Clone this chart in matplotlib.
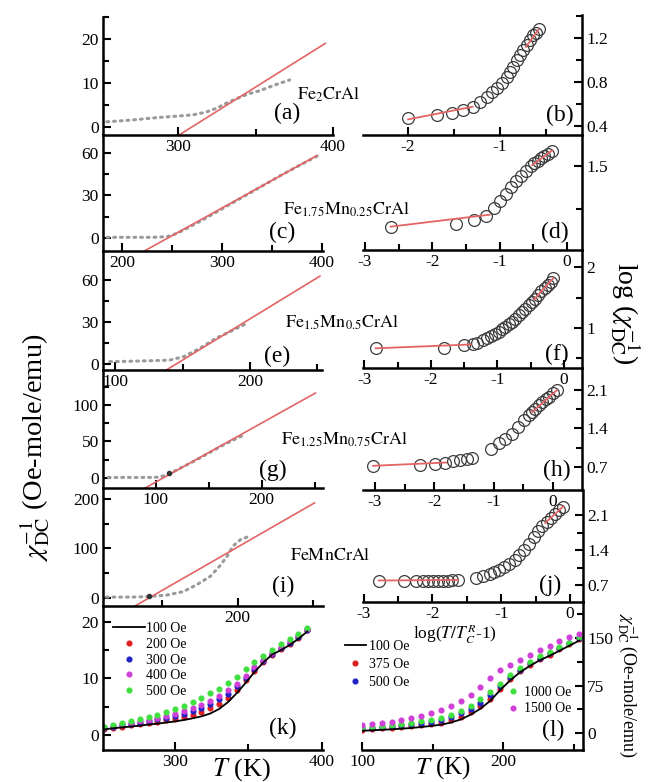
import matplotlib.pyplot as plt
from matplotlib.ticker import FixedLocator

plt.rcParams['font.family'] = ['Liberation Serif', 'DejaVu Serif']
plt.rcParams['mathtext.fontset'] = 'stix'
plt.rcParams['axes.unicode_minus'] = False

# ---------------- data ----------------
# left column: chi^-1 vs T (gray dotted data, red Curie-Weiss fit)
Ta = [254, 270, 288, 300, 310, 318, 325, 331, 338, 345, 353, 362, 372]
chia = [1.2, 1.6, 2.2, 2.5, 2.8, 3.4, 4.3, 5.4, 6.5, 7.5, 8.3, 9.5, 10.7]
fitTa = [300.6, 395]
fitchia = [-1.8, 19.0]

Tc = [185, 195, 205, 215, 225, 235, 245, 252, 260, 280, 300, 320, 340, 360, 380, 395]
chic = [0.5, 0.5, 0.5, 0.5, 0.5, 0.6, 1.0, 2.5, 5.0, 12.5, 20.5, 28.5, 36.5, 44.5, 52.0, 57.5]
fitTc = [222.3, 395]
fitchic = [-9.1, 58.0]

Te = [96, 104, 112, 120, 128, 136, 141, 151, 163, 175, 188, 198]
chie = [1.7, 1.8, 2.0, 2.2, 2.4, 2.6, 2.9, 5.3, 11.3, 18.5, 24.5, 29.3]
fitTe = [138, 252]
fitchie = [-4.3, 63.0]

Tg = [55, 65, 75, 85, 95, 103, 112, 120, 135, 150, 165, 185]
chig = [0.5, 0.5, 0.5, 0.5, 0.5, 0.8, 5.0, 11.0, 22.0, 34.0, 46.0, 60.0]
fitTg = [89.6, 251]
fitchig = [-14.2, 116.5]
tcTg, tcchig = [112], [6]

Ti = [113, 122, 131, 141, 153, 164, 173, 182, 188, 193, 197, 202, 208]
chii = [2, 2, 2, 3, 6, 13, 27, 44, 64, 84, 105, 118, 125]
fitTi = [132, 251]
fitchii = [-16, 192]
tcTi, tcchii = [141.5], [5]

# right column: log(chi^-1) vs log(T/Tc - 1)
xb = [-2.0, -1.69, -1.52, -1.40, -1.30, -1.22, -1.145, -1.09, -1.036, -0.98, -0.93,
      -0.89, -0.855, -0.82, -0.78, -0.75, -0.71, -0.67, -0.64, -0.61, -0.58]
yb = [0.47, 0.50, 0.52, 0.55, 0.57, 0.62, 0.667, 0.71, 0.75, 0.79, 0.85,
      0.89, 0.94, 1.0, 1.045, 1.09, 1.136, 1.18, 1.227, 1.25, 1.28]
fitxb_lo, fityb_lo = [-2.0, -1.3], [0.46, 0.575]
fitxb_hi, fityb_hi = [-0.72, -0.58], [1.12, 1.28]

xd = [-2.62, -1.65, -1.38, -1.21, -1.09, -0.99, -0.91, -0.84, -0.76, -0.69, -0.61,
      -0.54, -0.49, -0.44, -0.39, -0.34, -0.28, -0.22]
yd = [0.44, 0.49, 0.55, 0.63, 0.76, 0.895, 1.01, 1.13, 1.24, 1.33, 1.42,
      1.51, 1.55, 1.59, 1.64, 1.68, 1.72, 1.77]
fitxd_lo, fityd_lo = [-2.62, -1.15], [0.44, 0.65]
fitxd_hi, fityd_hi = [-0.52, -0.22], [1.52, 1.78]

xf = [-2.83, -1.8, -1.51, -1.37, -1.3, -1.22, -1.16, -1.1, -1.04, -0.98, -0.93, -0.88,
      -0.83, -0.78, -0.73, -0.68, -0.63, -0.58, -0.53, -0.48, -0.43, -0.39, -0.34,
      -0.29, -0.24, -0.2, -0.16]
yf = [0.667, 0.68, 0.72, 0.73, 0.76, 0.80, 0.83, 0.87, 0.90, 0.94, 0.98, 1.02,
      1.06, 1.10, 1.15, 1.21, 1.26, 1.32, 1.37, 1.43, 1.48, 1.54, 1.60,
      1.65, 1.71, 1.76, 1.82]
fitxf_lo, fityf_lo = [-2.83, -1.4], [0.667, 0.73]
fitxf_hi, fityf_hi = [-0.45, -0.16], [1.47, 1.82]

xh = [-3.03, -2.24, -1.99, -1.81, -1.68, -1.56, -1.45, -1.37, -1.05, -0.91, -0.8,
      -0.69, -0.58, -0.49, -0.41, -0.35, -0.3, -0.24, -0.18, -0.12, -0.07, 0.0, 0.07]
yh = [0.72, 0.74, 0.75, 0.78, 0.80, 0.82, 0.85, 0.86, 1.03, 1.13, 1.21,
      1.30, 1.42, 1.55, 1.64, 1.70, 1.76, 1.83, 1.89, 1.94, 1.98, 2.04, 2.10]
fitxh_lo, fityh_lo = [-3.03, -1.8], [0.72, 0.78]
fitxh_hi, fityh_hi = [-0.35, 0.07], [1.70, 2.10]

xj = [-2.78, -2.41, -2.24, -2.14, -2.07, -1.99, -1.92, -1.85, -1.78, -1.71, -1.63,
      -1.37, -1.27, -1.17, -1.1, -1.03, -0.96, -0.88, -0.8, -0.74, -0.67, -0.59,
      -0.52, -0.46, -0.4, -0.34, -0.28, -0.22, -0.16, -0.1]
yj = [0.79, 0.79, 0.79, 0.79, 0.79, 0.79, 0.79, 0.79, 0.79, 0.80, 0.80,
      0.85, 0.88, 0.92, 0.97, 1.01, 1.07, 1.13, 1.21, 1.30, 1.40, 1.53,
      1.67, 1.78, 1.88, 1.97, 2.05, 2.13, 2.20, 2.27]
fitxj_lo, fityj_lo = [-2.78, -1.63], [0.79, 0.80]
fitxj_hi, fityj_hi = [-0.36, -0.1], [1.94, 2.27]

# (k) Fe2CrAl, field dependence
Tk = [252, 258, 264, 270, 276, 282, 288, 294, 300, 306, 312, 318, 324, 330, 336,
      342, 348, 354, 360, 366, 372, 378, 384, 390]
k100 = [1.0, 1.2, 1.35, 1.5, 1.65, 1.85, 2.0, 2.2, 2.4, 2.65, 2.95, 3.3, 3.8, 4.6,
        5.8, 7.4, 9.2, 11.1, 12.8, 14.2, 15.0, 15.9, 17.0, 18.3]
k200 = [1.1, 1.3, 1.5, 1.7, 1.9, 2.1, 2.35, 2.6, 2.9, 3.2, 3.6, 4.1, 4.7, 5.5,
        6.6, 8.0, 9.7, 11.4, 12.9, 14.2, 15.2, 16.1, 17.2, 18.5]
k300 = [1.3, 1.5, 1.7, 1.95, 2.2, 2.45, 2.75, 3.05, 3.4, 3.8, 4.25, 4.8, 5.5, 6.3,
        7.3, 8.6, 10.1, 11.7, 13.1, 14.3, 15.4, 16.3, 17.4, 18.6]
k400 = [1.4, 1.65, 1.9, 2.15, 2.4, 2.7, 3.0, 3.35, 3.75, 4.2, 4.7, 5.3, 6.0, 6.9,
        7.9, 9.1, 10.5, 12.0, 13.3, 14.5, 15.6, 16.6, 17.6, 18.8]
k500 = [1.5, 1.8, 2.2, 2.5, 2.8, 3.2, 3.6, 4.1, 4.6, 5.2, 5.9, 6.6, 7.4, 8.2,
        9.2, 10.3, 11.6, 12.9, 14.0, 15.0, 16.0, 16.9, 17.9, 18.9]

# (l) FeMnCrAl, field dependence
Tl = [100, 107, 114, 121, 128, 135, 142, 149, 156, 163, 170, 177, 184, 191, 198,
      205, 212, 219, 226, 233, 240, 247, 254]
l100 = [3.6, 4.3, 5.1, 5.9, 6.9, 8.0, 9.5, 11.2, 13.2, 16.5, 21.5, 29, 38.5, 51, 68,
        83, 96, 106, 115, 122, 130, 138, 146]
l375 = [5.5, 6.3, 7.2, 8.1, 9.2, 10.5, 12.2, 14.2, 16.5, 20, 25, 32.5, 42, 54, 70,
        85, 98, 108, 117, 124, 132, 140, 148]
l500 = [7.5, 8.5, 9.5, 10.7, 12.0, 13.5, 15.5, 18, 21, 25, 31, 38.5, 48, 60, 74,
        88, 100, 110, 119, 126, 134, 142, 150]
l1000 = [9, 10.2, 11.4, 12.8, 14.3, 16, 18.3, 21, 24.5, 29, 35, 43, 53, 65, 78,
         91, 102, 112, 121, 128, 136, 143, 151]
l1500 = [12, 14, 16, 18, 20.5, 23.5, 27, 31, 36, 42, 50, 60, 73, 87, 99,
         108, 116, 123, 131, 138, 145, 151, 157]

W, H = 648, 782
fig = plt.figure(figsize=(6.48, 7.82), dpi=100)

RED = '#e36464'
GRAY = '#9a9a9a'
CIRC = '#3c3c3c'


def rect(x0, y0, x1, y1):
    return [x0 / W, 1 - y1 / H, (x1 - x0) / W, (y1 - y0) / H]


def fxy(x, y):
    return x / W, 1 - y / H


def style(ax, xlim, ylim, xmaj, xmin, ymaj, ymin, right=False):
    ax.set_xlim(xlim)
    ax.set_ylim(ylim)
    ax.patch.set_visible(False)
    ax.spines['top'].set_visible(False)
    if right:
        ax.spines['left'].set_visible(False)
        ax.yaxis.tick_right()
    else:
        ax.spines['right'].set_visible(False)
    for s in ax.spines.values():
        s.set_linewidth(1.8)
    ax.xaxis.set_major_locator(FixedLocator(xmaj))
    ax.xaxis.set_minor_locator(FixedLocator(xmin))
    ax.yaxis.set_major_locator(FixedLocator(ymaj))
    ax.yaxis.set_minor_locator(FixedLocator(ymin))
    ax.tick_params(which='both', direction='in', width=1.5, labelsize=12.5, pad=3)
    ax.tick_params(which='major', length=6)
    ax.tick_params(which='minor', length=4)


def left_panel(pos, T, chi, fT, fchi, xlim, ylim, xmaj, xmin, ymaj, ymin):
    ax = fig.add_axes(rect(*pos))
    ax.plot(T, chi, ls=(0, (0.6, 1.6)), lw=2.2, color=GRAY, dash_capstyle='round')
    ax.plot(fT, fchi, color=RED, lw=1.2)
    style(ax, xlim, ylim, xmaj, xmin, ymaj, ymin)
    return ax


def right_panel(pos, x, y, lo, hi, xlim, ylim, xmaj, xmin, ymaj, ymin):
    ax = fig.add_axes(rect(*pos))
    ax.plot(x, y, 'o', mfc='none', mec=CIRC, ms=8.5, mew=0.9)
    ax.plot(lo[0], lo[1], color=RED, lw=1.3, zorder=3)
    ax.plot(hi[0], hi[1], color=RED, lw=1.3, zorder=3)
    style(ax, xlim, ylim, xmaj, xmin, ymaj, ymin, right=True)
    return ax


# left column
left_panel((103, 17, 333, 135), Ta, chia, fitTa, fitchia, (251.5, 400), (-1.8, 25),
           [300, 400], [350], [0, 10, 20], [5, 15, 25])
left_panel((103, 135, 323, 251), Tc, chic, fitTc, fitchic, (181, 401), (-9.1, 72.4),
           [200, 300, 400], [250, 350], [0, 30, 60], [15, 45])
left_panel((103, 251, 322, 370), Te, chie, fitTe, fitchie, (91, 253.5), (-4.3, 81),
           [100, 200], [150, 250], [0, 30, 60], [15, 45])
axg = left_panel((103, 370, 323, 488), Tg, chig, fitTg, fitchig, (50, 258), (-14, 148),
                 [100, 200], [150, 250], [0, 50, 100], [25, 75, 125])
axg.plot(tcTg, tcchig, 'o', color='#333333', ms=3)
axi = left_panel((103, 488, 323, 606), Ti, chii, fitTi, fitchii, (110.8, 256.6), (-16, 222),
                 [200], [150, 250], [0, 100, 200], [50, 150])
axi.plot(tcTi, tcchii, 'o', color='#333333', ms=3)

# right column
right_panel((363, 15, 582, 135), xb, yb, (fitxb_lo, fityb_lo), (fitxb_hi, fityb_hi),
            (-2.49, -0.11), (0.318, 1.41), [-2, -1], [-1.5, -0.5], [0.4, 0.8, 1.2], [0.6, 1.0, 1.4])
right_panel((363, 135, 582, 250), xd, yd, (fitxd_lo, fityd_lo), (fitxd_hi, fityd_hi),
            (-3.03, 0.22), (0.03, 2.05), [-3, -2, -1, 0], [-2.5, -1.5, -0.5], [0.0, 1.5], [0.75])
right_panel((363, 250, 582, 368), xf, yf, (fitxf_lo, fityf_lo), (fitxf_hi, fityf_hi),
            (-3.02, 0.27), (0.344, 2.28), [-3, -2, -1, 0], [-2.5, -1.5, -0.5], [1, 2], [0.5, 1.5])
right_panel((363, 368, 582, 490), xh, yh, (fitxh_lo, fityh_lo), (fitxh_hi, fityh_hi),
            (-3.2, 0.49), (0.28, 2.5), [-3, -2, -1, 0], [-2.5, -1.5, -0.5], [0.7, 1.4, 2.1], [1.05, 1.75])
right_panel((363, 490, 583, 602), xj, yj, (fitxj_lo, fityj_lo), (fitxj_hi, fityj_hi),
            (-3.01, 0.19), (0.36, 2.6), [-3, -2, -1, 0], [-2.5, -1.5, -0.5], [0.7, 1.4, 2.1], [1.05, 1.75])

# (k)
axk = fig.add_axes(rect(103, 606, 323, 750))
axk.plot(Tk, k100, color='black', lw=1.3, label='100 Oe', zorder=5)
axk.plot(Tk, k200, 'o', color='#e02020', ms=3.4, label='200 Oe')
axk.plot(Tk, k300, 'o', color='#2020c8', ms=3.4, label='300 Oe')
axk.plot(Tk, k400, 'o', color='#d040d8', ms=3.4, label='400 Oe')
axk.plot(Tk, k500, 'o', color='#40e040', ms=3.4, label='500 Oe')
style(axk, (251, 400.7), (-2.65, 22.8), [300, 400], [350], [0, 10, 20], [5, 15])
axk.legend(loc='upper left', bbox_to_anchor=fxy(113, 622), bbox_transform=fig.transFigure,
           frameon=False, fontsize=10, handlelength=2.3, handletextpad=0.1,
           labelspacing=0.2, borderpad=0, borderaxespad=0, numpoints=1)

# (l)
axl = fig.add_axes(rect(362, 602, 583, 750))
h100, = axl.plot(Tl, l100, color='black', lw=1.3, label='100 Oe', zorder=5)
h375, = axl.plot(Tl, l375, 'o', color='#e02020', ms=3.4, label='375 Oe')
h500, = axl.plot(Tl, l500, 'o', color='#2020c8', ms=3.4, label='500 Oe')
h1000, = axl.plot(Tl, l1000, 'o', color='#40e040', ms=3.4, label='1000 Oe')
h1500, = axl.plot(Tl, l1500, 'o', color='#d040d8', ms=3.4, label='1500 Oe')
style(axl, (100, 256.7), (-26.8, 207), [100, 200], [150, 250], [0, 75, 150],
      [37.5, 112.5, 187.5], right=True)
leg1 = axl.legend(handles=[h100, h375, h500], loc='upper left', bbox_to_anchor=fxy(345, 640),
                  bbox_transform=fig.transFigure, frameon=False, fontsize=10,
                  handlelength=1.5, handletextpad=0.2, labelspacing=0.35,
                  borderpad=0, borderaxespad=0, numpoints=1)
axl.add_artist(leg1)
axl.legend(handles=[h1000, h1500], loc='upper left', bbox_to_anchor=fxy(505, 686),
           bbox_transform=fig.transFigure, frameon=False, fontsize=10,
           handlelength=1.2, handletextpad=0.2, labelspacing=0.25,
           borderpad=0, borderaxespad=0, numpoints=1)

# compound names and panel letters
names = [(r'$\mathrm{Fe_2CrAl}$', 328, 95), (r'$\mathrm{Fe_{1.75}Mn_{0.25}CrAl}$', 346, 210),
         (r'$\mathrm{Fe_{1.5}Mn_{0.5}CrAl}$', 342, 323), (r'$\mathrm{Fe_{1.25}Mn_{0.75}CrAl}$', 344, 440),
         (r'$\mathrm{FeMnCrAl}$', 330, 555)]
for s, x, y in names:
    fig.text(*fxy(x, y), s, fontsize=13, ha='center', va='center')

letters = [('(a)', 287, 113), ('(b)', 560, 115), ('(c)', 282, 232), ('(d)', 555, 232),
           ('(e)', 277, 356), ('(f)', 557, 354), ('(g)', 273, 470), ('(h)', 557, 470),
           ('(i)', 283, 586), ('(j)', 550, 585), ('(k)', 283, 728), ('(l)', 553, 730)]
for s, x, y in letters:
    fig.text(*fxy(x, y), s, fontsize=17, ha='center', va='center')

# axis labels
fig.text(*fxy(35, 448), r'$\chi_{\rm DC}^{-1}$ (Oe-mole/emu)', fontsize=20.5, rotation=90,
         ha='center', va='center')
fig.text(*fxy(625, 313), r'log ($\chi_{\rm DC}^{-1}$)', fontsize=20, rotation=270,
         ha='center', va='center')
fig.text(*fxy(627, 686), r'$\chi_{\rm DC}^{-1}$ (Oe-mole/emu)', fontsize=13, rotation=270,
         ha='center', va='center')
fig.text(*fxy(455, 634), r'log($T/T_C^R$-1)', fontsize=12.5, ha='center', va='center')
fig.text(*fxy(241, 770), r'$T$ (K)', fontsize=19, ha='center', va='center')
fig.text(*fxy(443, 768), r'$T$ (K)', fontsize=18, ha='center', va='center')

fig.savefig('out.png', dpi=100)
